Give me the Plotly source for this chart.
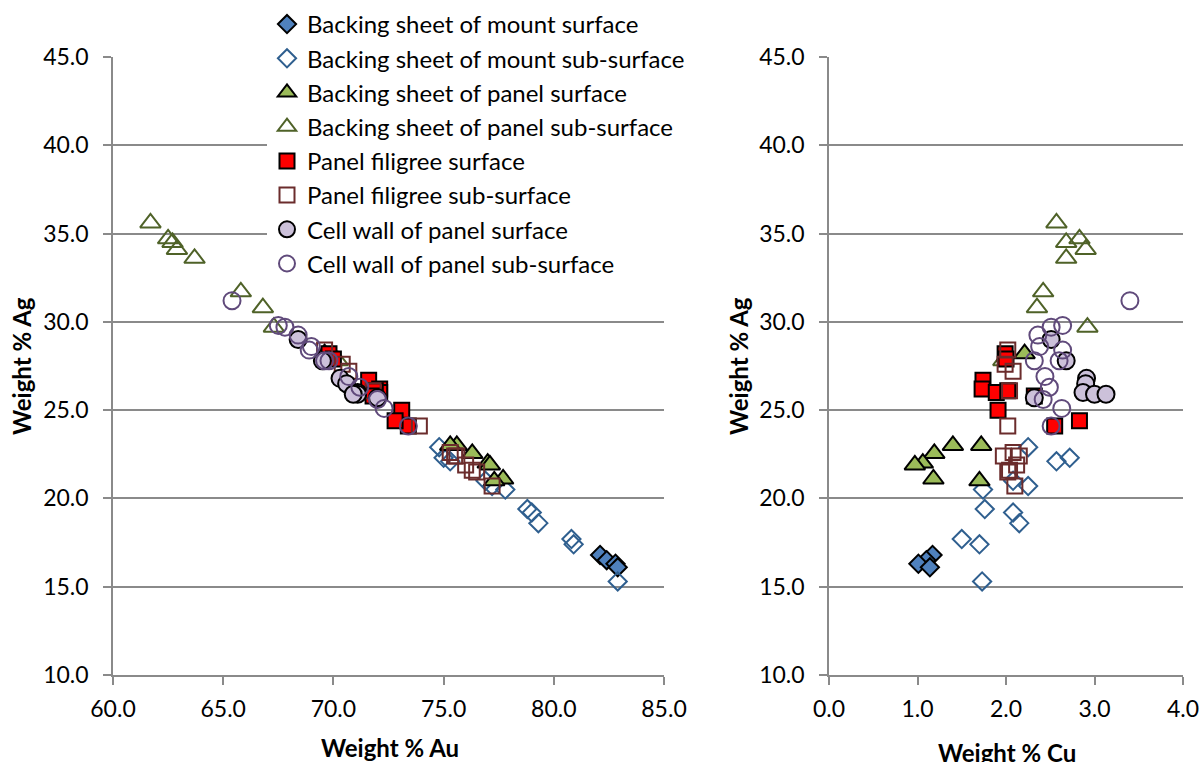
import plotly.graph_objects as go

# ---------------- data (Weight %) ----------------
series_names = [
    "Backing sheet of mount surface",
    "Backing sheet of mount sub-surface",
    "Backing sheet of panel surface",
    "Backing sheet of panel sub-surface",
    "Panel filigree surface",
    "Panel filigree sub-surface",
    "Cell wall of panel surface",
    "Cell wall of panel sub-surface",
]

mount_surf_ag = [16.8, 16.5, 16.3, 16.1]
mount_surf_au = [82.1, 82.4, 82.8, 82.9]
mount_surf_cu = [1.17, 1.10, 1.01, 1.14]

mount_sub_ag = [22.9, 22.3, 22.1, 21.0, 20.7, 20.5, 19.4, 19.2, 18.6, 17.7, 17.4, 15.3]
mount_sub_au = [74.8, 75.0, 75.3, 76.9, 77.2, 77.8, 78.8, 79.0, 79.3, 80.8, 80.9, 82.9]
mount_sub_cu = [2.25, 2.72, 2.57, 2.08, 2.25, 1.74, 1.76, 2.08, 2.15, 1.50, 1.70, 1.73]

panel_surf_ag = [23.0, 23.0, 22.55, 22.0, 21.9, 21.1, 21.0, 28.2]
panel_surf_au = [75.6, 75.3, 76.3, 77.0, 77.1, 77.7, 77.3, 69.6]
panel_surf_cu = [1.40, 1.72, 1.19, 1.06, 0.97, 1.18, 1.70, 2.21]

panel_sub_ag = [35.6, 34.7, 34.5, 34.1, 33.6, 31.7, 30.8, 29.7, 27.8]
panel_sub_au = [61.7, 62.5, 62.7, 62.9, 63.7, 65.8, 66.8, 67.3, 70.2]
panel_sub_cu = [2.57, 2.83, 2.68, 2.90, 2.68, 2.42, 2.35, 2.92, 1.97]

filig_surf_ag = [28.2, 27.9, 26.7, 26.2, 26.0, 26.1, 25.8, 25.0, 24.1, 24.4]
filig_surf_au = [69.8, 70.0, 71.6, 72.1, 72.1, 71.9, 71.8, 73.1, 73.4, 72.8]
filig_surf_cu = [1.99, 2.00, 1.74, 1.73, 1.89, 2.02, 2.32, 1.91, 2.55, 2.83]

filig_sub_ag = [28.4, 27.6, 27.2, 26.1, 24.1, 22.4, 22.6, 22.4, 21.6, 21.9, 20.7, 21.5]
filig_sub_au = [69.6, 70.4, 70.7, 71.8, 73.9, 75.6, 75.3, 75.5, 76.3, 76.0, 77.2, 76.5]
filig_sub_cu = [2.02, 1.99, 2.08, 2.04, 2.02, 1.97, 2.08, 2.15, 2.04, 2.12, 2.10, 2.02]

cell_surf_ag = [29.0, 27.8, 26.8, 26.5, 26.0, 25.9, 25.9, 25.7]
cell_surf_au = [68.4, 69.5, 70.3, 70.6, 71.1, 71.1, 70.9, 72.0]
cell_surf_cu = [2.51, 2.68, 2.91, 2.90, 2.87, 3.00, 3.13, 2.32]

cell_sub_ag = [31.2, 29.8, 29.7, 29.25, 28.6, 28.4, 27.8, 27.8, 26.9, 26.3, 25.6, 25.1, 24.1]
cell_sub_au = [65.4, 67.5, 67.8, 68.4, 69.0, 68.9, 69.6, 69.8, 70.7, 71.2, 72.0, 72.3, 73.4]
cell_sub_cu = [3.40, 2.64, 2.51, 2.36, 2.38, 2.64, 2.60, 2.32, 2.44, 2.49, 2.42, 2.63, 2.51]

y_ticks = [10, 15, 20, 25, 30, 35, 40, 45]
au_ticks = [60, 65, 70, 75, 80, 85]
cu_ticks = [0, 1, 2, 3, 4]

# ---------------- styles ----------------
styles = [
    dict(symbol="diamond", size=14, color="#4F81BD", line=dict(color="#000000", width=2)),
    dict(symbol="diamond-open", size=14, color="#2F5F8F", line=dict(color="#2F5F8F", width=2)),
    dict(symbol="triangle-up", size=18, color="#9BBB59", line=dict(color="#000000", width=2)),
    dict(symbol="triangle-up-open", size=18, color="#4F6228", line=dict(color="#4F6228", width=2)),
    dict(symbol="square", size=15, color="#FF0000", line=dict(color="#000000", width=2)),
    dict(symbol="square-open", size=15, color="#6B2C2C", line=dict(color="#6B2C2C", width=2)),
    dict(symbol="circle", size=17, color="#CCC1DA", line=dict(color="#000000", width=2)),
    dict(symbol="circle-open", size=17, color="#604A7B", line=dict(color="#604A7B", width=2)),
]

data = [
    (mount_surf_au, mount_surf_cu, mount_surf_ag),
    (mount_sub_au, mount_sub_cu, mount_sub_ag),
    (panel_surf_au, panel_surf_cu, panel_surf_ag),
    (panel_sub_au, panel_sub_cu, panel_sub_ag),
    (filig_surf_au, filig_surf_cu, filig_surf_ag),
    (filig_sub_au, filig_sub_cu, filig_sub_ag),
    (cell_surf_au, cell_surf_cu, cell_surf_ag),
    (cell_sub_au, cell_sub_cu, cell_sub_ag),
]

fig = go.Figure()
for i, (name, (au, cu, ag), st) in enumerate(zip(series_names, data, styles)):
    fig.add_trace(go.Scatter(x=au, y=ag, mode="markers", name=name, marker=st,
                             showlegend=True, xaxis="x", yaxis="y"))
    fig.add_trace(go.Scatter(x=cu, y=ag, mode="markers", name=name, marker=st,
                             showlegend=False, xaxis="x2", yaxis="y2"))

W, H = 1203, 762
FONT = "Lato"
grid_c = "#8a8a8a"

def px_x(p):
    return p / W

def px_y(p):
    return 1 - p / H

axis_common = dict(
    showline=True, linecolor=grid_c, linewidth=1.5,
    ticks="outside", ticklen=8, tickcolor=grid_c, tickwidth=1.5,
    tickfont=dict(family=FONT, size=23, color="#000000"),
    tickformat=".1f", zeroline=False,
)

fig.update_layout(
    width=W, height=H,
    margin=dict(l=0, r=0, t=0, b=0, autoexpand=False),
    paper_bgcolor="white", plot_bgcolor="white",
    font=dict(family=FONT, color="#000000"),
    xaxis=dict(domain=[px_x(113), px_x(664)], range=[60, 85], tickvals=au_ticks,
               showgrid=False, anchor="y", ticklabelstandoff=5, **axis_common),
    yaxis=dict(domain=[px_y(675), px_y(57)], range=[10, 45], tickvals=y_ticks,
               showgrid=True, gridcolor=grid_c, gridwidth=1.5, anchor="x",
               ticklabelstandoff=10, **axis_common),
    xaxis2=dict(domain=[px_x(829), px_x(1183)], range=[0, 4], tickvals=cu_ticks,
                showgrid=False, anchor="y2", ticklabelstandoff=5, **axis_common),
    yaxis2=dict(domain=[px_y(675), px_y(57)], range=[10, 45], tickvals=y_ticks,
                showgrid=True, gridcolor=grid_c, gridwidth=1.5, anchor="x2",
                ticklabelstandoff=10, **axis_common),
    legend=dict(x=px_x(267), y=px_y(2), xanchor="left", yanchor="top",
                bgcolor="white", borderwidth=0,
                font=dict(family=FONT, size=24, color="#000000")),
    showlegend=True,
)

title_font = dict(family=FONT, size=24, color="#000000")
fig.add_annotation(text="<b>Weight % Au</b>", x=px_x(390), y=px_y(747), xref="paper", yref="paper",
                   showarrow=False, font=title_font, xanchor="center", yanchor="middle")
fig.add_annotation(text="<b>Weight % Cu</b>", x=px_x(1007), y=px_y(752), xref="paper", yref="paper",
                   showarrow=False, font=title_font, xanchor="center", yanchor="middle")
fig.add_annotation(text="<b>Weight % Ag</b>", x=px_x(21), y=px_y(366), xref="paper", yref="paper",
                   showarrow=False, font=title_font, textangle=-90, xanchor="center", yanchor="middle")
fig.add_annotation(text="<b>Weight % Ag</b>", x=px_x(738), y=px_y(366), xref="paper", yref="paper",
                   showarrow=False, font=title_font, textangle=-90, xanchor="center", yanchor="middle")

# remove the browser's default page margin so the figure sits at the window's top-left corner
fig.write_html("out.html", config={"displayModeBar": False},
               post_script="document.body.style.margin='0';document.body.style.overflow='hidden';")
